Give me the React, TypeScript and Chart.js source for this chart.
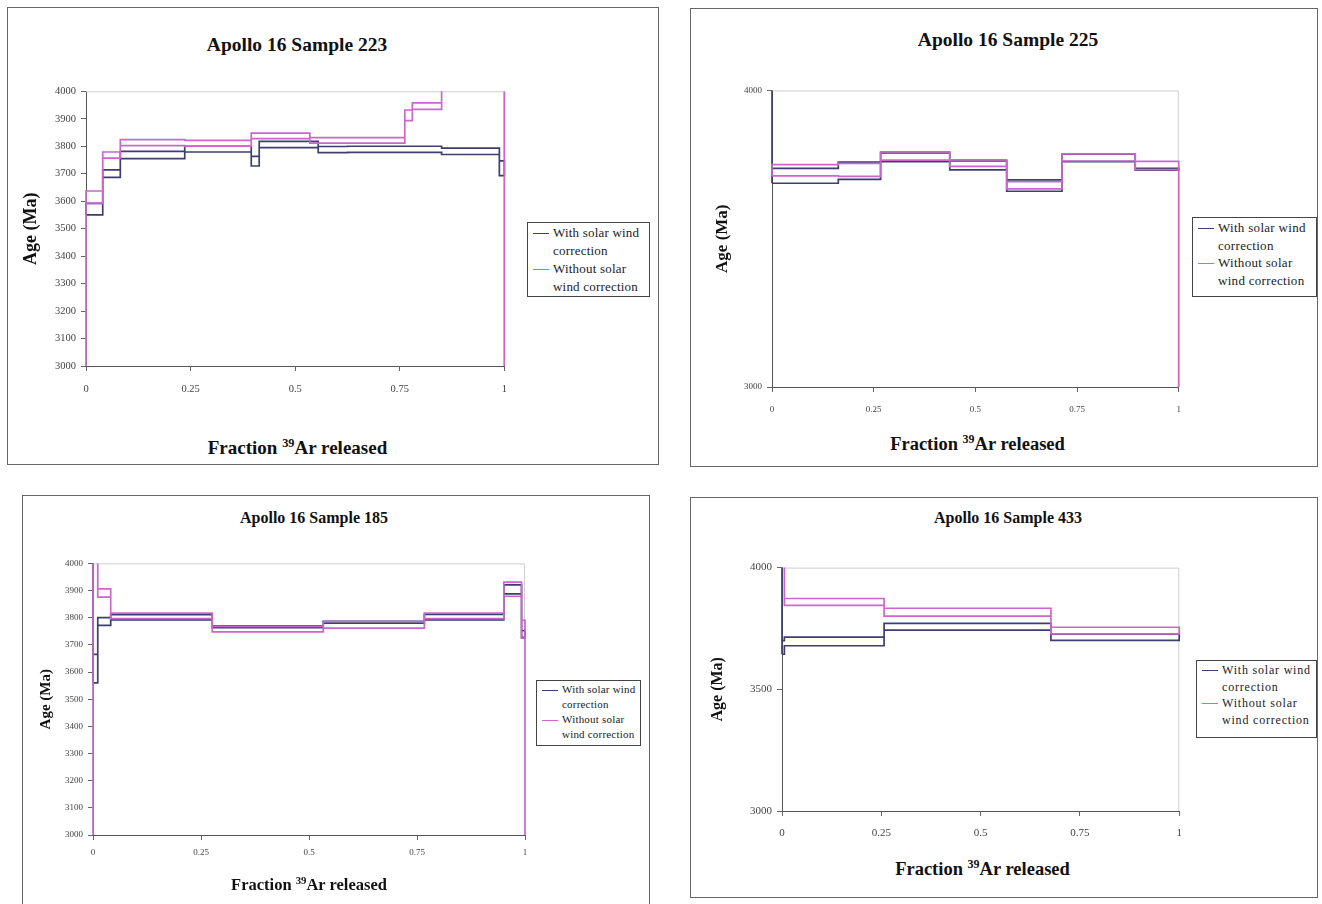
import React, { useEffect, useRef } from "react";
import { Chart, registerables } from "chart.js";

Chart.register(...registerables);

const FONT = "'Liberation Serif', 'Times New Roman', serif";
const DARK = "#3e3e6e";
const PINK = "#cc66cc";

const LABEL_WITH = ["With solar wind", "correction"];
const LABEL_WITHOUT = ["Without solar", "wind correction"];
const X_TICKS = [0, 0.25, 0.5, 0.75, 1];

// ---------- Sample 223 ----------
const s223WithEdges = [0, 0.04, 0.082, 0.236, 0.395, 0.414, 0.555, 0.625, 0.85, 0.988, 1];
const s223WithUpper = [3592, 3714, 3781, 3800, 3763, 3818, 3799, 3800, 3793, 3747];
const s223WithLower = [3550, 3687, 3755, 3779, 3728, 3795, 3777, 3778, 3770, 3693];
const s223WithoutEdges = [0, 0.04, 0.082, 0.236, 0.395, 0.535, 0.762, 0.78, 0.85, 1];
const s223WithoutUpper = [3637, 3779, 3824, 3821, 3848, 3831, 3932, 3958, 4060];
const s223WithoutLower = [3592, 3757, 3802, 3800, 3828, 3811, 3893, 3934, 4030];

// ---------- Sample 225 ----------
const s225Edges = [0, 0.163, 0.267, 0.437, 0.577, 0.713, 0.893, 1];
const s225WithUpper = [3737, 3758, 3789, 3762, 3698, 3785, 3737];
const s225WithLower = [3687, 3700, 3760, 3732, 3660, 3760, 3731];
const s225WithoutUpper = [3750, 3754, 3793, 3766, 3692, 3786, 3761];
const s225WithoutLower = [3712, 3710, 3765, 3744, 3668, 3762, 3733];

// ---------- Sample 185 ----------
const s185Edges = [0, 0.011, 0.041, 0.276, 0.533, 0.767, 0.951, 0.992, 1];
const s185WithUpper = [3665, 3800, 3811, 3770, 3787, 3812, 3921, 3752];
const s185WithLower = [3560, 3772, 3792, 3763, 3780, 3792, 3888, 3728];
const s185WithoutUpper = [4060, 3906, 3817, 3768, 3786, 3817, 3931, 3790];
const s185WithoutLower = [4030, 3876, 3797, 3748, 3762, 3797, 3879, 3725];

// ---------- Sample 433 ----------
const s433Edges = [0, 0.006, 0.257, 0.677, 1];
const s433WithUpper = [3700, 3714, 3771, 3727];
const s433WithLower = [3644, 3679, 3743, 3701];
const s433WithoutUpper = [4060, 3873, 3833, 3755];
const s433WithoutLower = [4030, 3845, 3801, 3728];

type Ext = "min" | "max" | null;

interface SeriesCfg {
  edges: number[];
  upper: number[];
  lower: number[];
  color: string;
  start: Ext;
  end: Ext;
}

interface PanelCfg {
  title: string;
  titleX: number;
  titleY: number;
  titleSize: number;
  frame: [number, number, number, number];
  plot: [number, number, number, number];
  yTitleX: number;
  yTitleSize: number;
  yMin: number;
  yMax: number;
  yStep: number;
  tickSize: number;
  xTickPad: number;
  xTitleY: number;
  xTitleSize: number;
  legend: [number, number, number, number];
  legendSize: number;
  legendLine: number;
  legendSpacing: number;
  series: SeriesCfg[];
}

const panels: PanelCfg[] = [
  {
    title: "Apollo 16 Sample 223",
    titleX: 297,
    titleY: 45,
    titleSize: 19.5,
    frame: [7, 7, 659, 465],
    plot: [86, 90, 509, 366],
    yTitleX: 32,
    yTitleSize: 18,
    yMin: 3000,
    yMax: 4000,
    yStep: 100,
    tickSize: 10.5,
    xTickPad: 12,
    xTitleY: 448,
    xTitleSize: 19,
    legend: [527, 222, 650, 297],
    legendSize: 13,
    legendLine: 18,
    legendSpacing: 0.2,
    series: [
      { edges: s223WithoutEdges, upper: s223WithoutUpper, lower: s223WithoutLower, color: PINK, start: "min", end: "min" },
      { edges: s223WithEdges, upper: s223WithUpper, lower: s223WithLower, color: DARK, start: null, end: null },
    ],
  },
  {
    title: "Apollo 16 Sample 225",
    titleX: 1008,
    titleY: 40,
    titleSize: 19.5,
    frame: [690, 8, 1318, 467],
    plot: [772, 90, 1183, 387],
    yTitleX: 722,
    yTitleSize: 17,
    yMin: 3000,
    yMax: 4000,
    yStep: 1000,
    tickSize: 9,
    xTickPad: 12,
    xTitleY: 443,
    xTitleSize: 18.5,
    legend: [1192, 217, 1317, 297],
    legendSize: 13,
    legendLine: 17.5,
    legendSpacing: 0.3,
    series: [
      { edges: s225Edges, upper: s225WithoutUpper, lower: s225WithoutLower, color: PINK, start: null, end: "min" },
      { edges: s225Edges, upper: s225WithUpper, lower: s225WithLower, color: DARK, start: "max", end: null },
    ],
  },
  {
    title: "Apollo 16 Sample 185",
    titleX: 314,
    titleY: 518,
    titleSize: 16,
    frame: [22, 495, 650, 920],
    plot: [93, 563, 525, 835],
    yTitleX: 46,
    yTitleSize: 15,
    yMin: 3000,
    yMax: 4000,
    yStep: 100,
    tickSize: 9,
    xTickPad: 7,
    xTitleY: 884,
    xTitleSize: 16.5,
    legend: [536, 680, 641, 746],
    legendSize: 11,
    legendLine: 15,
    legendSpacing: 0.2,
    series: [
      { edges: s185Edges, upper: s185WithoutUpper, lower: s185WithoutLower, color: PINK, start: "min", end: "min" },
      { edges: s185Edges, upper: s185WithUpper, lower: s185WithLower, color: DARK, start: "max", end: null },
    ],
  },
  {
    title: "Apollo 16 Sample 433",
    titleX: 1008,
    titleY: 518,
    titleSize: 16,
    frame: [690, 497, 1318, 898],
    plot: [782, 566, 1183, 811],
    yTitleX: 718,
    yTitleSize: 16,
    yMin: 3000,
    yMax: 4000,
    yStep: 500,
    tickSize: 11,
    xTickPad: 11,
    xTitleY: 868,
    xTitleSize: 18.5,
    legend: [1196, 660, 1317, 738],
    legendSize: 12,
    legendLine: 16.5,
    legendSpacing: 0.8,
    series: [
      { edges: s433Edges, upper: s433WithoutUpper, lower: s433WithoutLower, color: PINK, start: "max", end: null },
      { edges: s433Edges, upper: s433WithUpper, lower: s433WithLower, color: DARK, start: "max", end: null },
    ],
  },
];

function outline(s: SeriesCfg) {
  const pts: { x: number; y: number }[] = [];
  const n = s.upper.length;
  for (let i = 0; i < n; i++) {
    pts.push({ x: s.edges[i], y: s.lower[i] }, { x: s.edges[i + 1], y: s.lower[i] });
  }
  for (let i = n - 1; i >= 0; i--) {
    pts.push({ x: s.edges[i + 1], y: s.upper[i] }, { x: s.edges[i], y: s.upper[i] });
  }
  pts.push({ x: s.edges[0], y: s.lower[0] });
  return pts;
}

const frameLines = {
  id: "frameLines",
  beforeDatasetsDraw(chart: any) {
    const { ctx, chartArea: a } = chart;
    ctx.save();
    ctx.strokeStyle = "#cfcfcf";
    ctx.lineWidth = 1;
    ctx.beginPath();
    ctx.moveTo(a.left, a.top + 0.5);
    ctx.lineTo(a.right - 0.5, a.top + 0.5);
    ctx.lineTo(a.right - 0.5, a.bottom);
    ctx.stroke();
    ctx.restore();
  },
};

function Panel({ p }: { p: PanelCfg }) {
  const ref = useRef<HTMLCanvasElement | null>(null);
  const [pl, pt, pr, pb] = p.plot;
  const yLine = p.yTitleSize * 1.2;
  const cLeft = Math.round(p.yTitleX - 4 - yLine / 2);
  const cTop = pt - 10;
  const xH = 40;
  const cRight = pr + 10;
  const cBottom = pb + xH;
  const cw = cRight - cLeft;
  const ch = cBottom - cTop;

  useEffect(() => {
    if (!ref.current) return;
    const datasets: any[] = [];
    const base = { showLine: true, pointRadius: 0, borderWidth: 1.7, fill: false, tension: 0, clip: { left: 3, right: 3, top: 0, bottom: 2 } };
    p.series.forEach((s) => {
      const n = s.upper.length;
      datasets.push({ ...base, data: outline(s), borderColor: s.color });
      if (s.start) {
        datasets.push({
          ...base,
          borderColor: s.color,
          data: [
            { x: s.edges[0], y: s.start === "min" ? p.yMin : p.yMax },
            { x: s.edges[0], y: s.start === "min" ? s.lower[0] : s.upper[0] },
          ],
        });
      }
      if (s.end) {
        datasets.push({
          ...base,
          borderColor: s.color,
          data: [
            { x: s.edges[n], y: s.end === "min" ? s.lower[n - 1] : s.upper[n - 1] },
            { x: s.edges[n], y: s.end === "min" ? p.yMin : p.yMax },
          ],
        });
      }
    });
    const tickFont = { family: FONT, size: p.tickSize };
    const grid = { drawOnChartArea: false, drawTicks: true, tickLength: 5, color: "#666" };
    const border = { color: "#555", width: 1 };
    const chart = new Chart(ref.current, {
      type: "scatter",
      data: { datasets },
      options: {
        animation: false,
        responsive: false,
        maintainAspectRatio: false,
        events: [],
        layout: { padding: { top: 10, right: 10, left: 0, bottom: 0 } },
        plugins: { legend: { display: false }, tooltip: { enabled: false }, title: { display: false } },
        scales: {
          x: {
            type: "linear",
            min: 0,
            max: 1,
            afterFit: (s: any) => {
              s.height = xH;
            },
            afterBuildTicks: (s: any) => {
              s.ticks = X_TICKS.map((v) => ({ value: v }));
            },
            ticks: { font: tickFont, color: "#444", padding: p.xTickPad, maxRotation: 0, autoSkip: false, callback: (v: any) => String(v) },
            grid,
            border,
          },
          y: {
            type: "linear",
            min: p.yMin,
            max: p.yMax,
            afterFit: (s: any) => {
              s.width = pl - cLeft;
            },
            ticks: { stepSize: p.yStep, font: tickFont, color: "#444", padding: 5, callback: (v: any) => String(v) },
            grid,
            border,
            title: {
              display: true,
              text: "Age (Ma)",
              color: "#111",
              font: { family: FONT, size: p.yTitleSize, weight: "bold" },
              padding: { top: 4, bottom: 0 },
            },
          },
        },
      } as any,
      plugins: [frameLines],
    });
    return () => chart.destroy();
  }, []);

  const [fl, ft, fr, fb] = p.frame;
  const [ll, lt, lr, lb] = p.legend;
  const entries = [
    { color: DARK, lines: LABEL_WITH },
    { color: PINK, lines: LABEL_WITHOUT },
  ];
  return (
    <>
      <div
        style={{
          position: "absolute",
          left: fl,
          top: ft,
          width: fr - fl,
          height: fb - ft,
          border: "1px solid #666",
          boxSizing: "border-box",
        }}
      />
      <div
        style={{
          position: "absolute",
          left: p.titleX - 200,
          width: 400,
          top: p.titleY - p.titleSize * 0.62,
          textAlign: "center",
          fontFamily: FONT,
          fontWeight: "bold",
          fontSize: p.titleSize,
          lineHeight: 1.2 + "",
          color: "#111",
          whiteSpace: "nowrap",
        }}
      >
        {p.title}
      </div>
      <canvas
        ref={ref}
        width={cw}
        height={ch}
        style={{ position: "absolute", left: cLeft, top: cTop, width: cw, height: ch }}
      />
      <div
        style={{
          position: "absolute",
          left: (pl + pr) / 2 - 200,
          width: 400,
          top: p.xTitleY - p.xTitleSize * 0.62,
          textAlign: "center",
          fontFamily: FONT,
          fontWeight: "bold",
          fontSize: p.xTitleSize,
          lineHeight: 1.2 + "",
          color: "#111",
          whiteSpace: "nowrap",
        }}
      >
        Fraction <sup style={{ fontSize: "0.65em", verticalAlign: "0.6em" }}>39</sup>Ar released
      </div>
      <div
        style={{
          position: "absolute",
          left: ll,
          top: lt,
          width: lr - ll,
          height: lb - lt,
          border: "1px solid #444",
          boxSizing: "border-box",
          background: "#fff",
          fontFamily: FONT,
          fontSize: p.legendSize,
          letterSpacing: p.legendSpacing,
          color: "#222",
          lineHeight: p.legendLine + "px",
          padding: "1px 0 0 0",
          whiteSpace: "nowrap",
          overflow: "hidden",
        }}
      >
        {entries.map((e, i) => (
          <div key={i} style={{ display: "flex", alignItems: "flex-start" }}>
            <span
              style={{
                flex: "none",
                width: 16,
                height: 0,
                borderTop: `1.6px solid ${e.color}`,
                marginTop: p.legendLine / 2,
                marginLeft: 5,
                marginRight: 4,
              }}
            />
            <span>
              {e.lines[0]}
              <br />
              {e.lines[1]}
            </span>
          </div>
        ))}
      </div>
    </>
  );
}

export default function App() {
  return (
    <div
      style={{
        position: "absolute",
        left: 0,
        top: 0,
        width: 1322,
        height: 904,
        background: "#fff",
        overflow: "hidden",
      }}
    >
      {panels.map((p, i) => (
        <Panel key={i} p={p} />
      ))}
    </div>
  );
}
